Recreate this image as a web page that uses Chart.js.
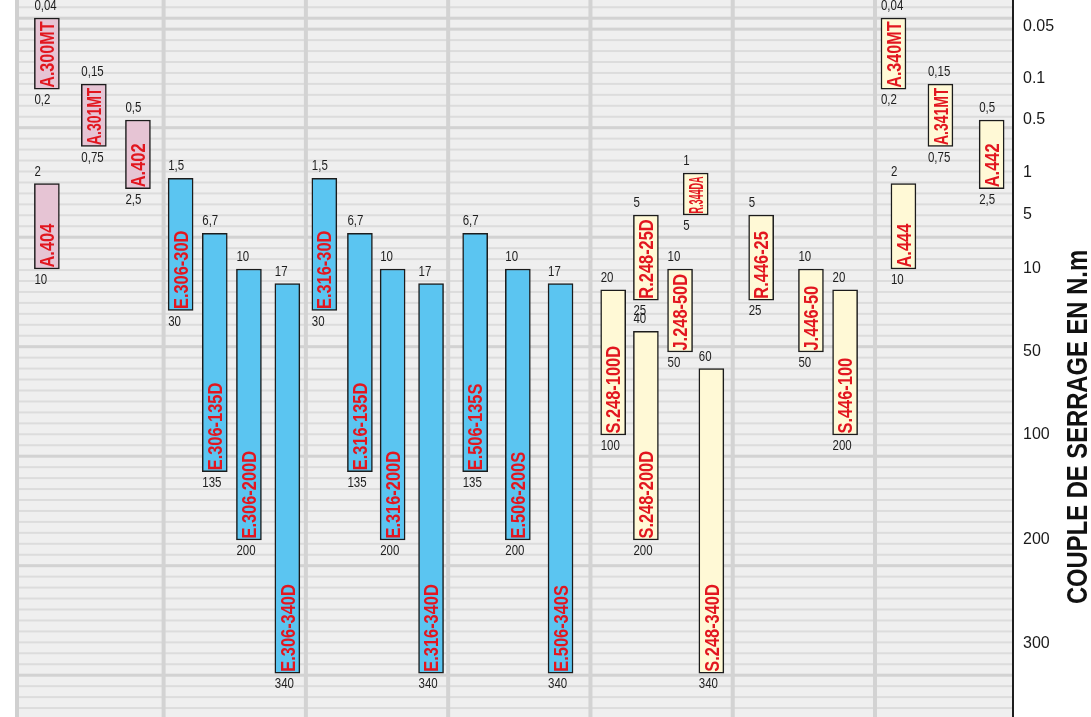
<!DOCTYPE html>
<html>
<head>
<meta charset="utf-8">
<script src="https://cdn.jsdelivr.net/npm/chart.js@4/dist/chart.umd.min.js"></script>
<style>
  html, body { margin: 0; padding: 0; background: #ffffff; }
  #wrap { width: 1091px; height: 717px; position: relative; }
</style>
</head>
<body>
<div id="wrap"><canvas id="c" width="1091" height="717"></canvas></div>
<script>
// ---------------- DATA ----------------
// Right axis (torque, N.m) – tick values and printed labels
const tickValues = [0.05, 0.1, 0.5, 1, 5, 10, 50, 100, 200, 300];
const tickLabels = ['0.05', '0.1', '0.5', '1', '5', '10', '50', '100', '200', '300'];
const axisMin = 0.02;
const axisMax = 400;
const axisTitle = 'COUPLE DE SERRAGE EN N.m';

// Series 1: pink models (torque range min / max, horizontal slot in grid columns)
const pinkNames = ['A.300MT', 'A.301MT', 'A.402', 'A.404'];
const pinkMin   = [0.04, 0.15, 0.5, 2];
const pinkMax   = [0.2, 0.75, 2.5, 10];
const pinkSlot  = [0.21, 0.54, 0.85, 0.21];

// Series 2: blue models
const blueNames = ['E.306-30D', 'E.306-135D', 'E.306-200D', 'E.306-340D',
                   'E.316-30D', 'E.316-135D', 'E.316-200D', 'E.316-340D',
                   'E.506-135S', 'E.506-200S', 'E.506-340S'];
const blueMin   = [1.5, 6.7, 10, 17, 1.5, 6.7, 10, 17, 6.7, 10, 17];
const blueMax   = [30, 135, 200, 340, 30, 135, 200, 340, 135, 200, 340];
const blueSlot  = [1.15, 1.39, 1.63, 1.90, 2.16, 2.41, 2.64, 2.91, 3.22, 3.52, 3.82];

// Series 3: cream models
const creamNames = ['S.248-100D', 'R.248-25D', 'S.248-200D', 'J.248-50D', 'R.344DA', 'S.248-340D',
                    'R.446-25', 'J.446-50', 'S.446-100', 'A.340MT', 'A.341MT', 'A.442', 'A.444'];
const creamMin   = [20, 5, 40, 10, 1, 60, 5, 10, 20, 0.04, 0.15, 0.5, 2];
const creamMax   = [100, 25, 200, 50, 5, 340, 25, 50, 100, 0.2, 0.75, 2.5, 10];
const creamSlot  = [4.19, 4.42, 4.42, 4.66, 4.77, 4.88, 5.23, 5.58, 5.82, 6.16, 6.49, 6.85, 6.23];

// The picture prints "200" under S.446-100 although the bar ends at the 100 level
const printedMax = { 'S.446-100': '200' };

// ---------------- STYLE ----------------
const SANS = "'Liberation Sans', Arial, sans-serif";
const NARROW_X = 0.82;            // horizontal compression to imitate a narrow face
const COLORS = { pink: '#e6c4d4', blue: '#5bc5f1', cream: '#fff9d6' };
const LABEL_RED = '#e2161f';

// Custom non-uniform torque scale: piecewise linear between the printed ticks
// (tick positions as fractions of the plot height)
const TICK_FRACTIONS = [27, 79, 120, 173, 215, 269, 352, 435, 540, 644].map(p => p / 717);

class TorqueScale extends Chart.LinearScale {
  determineDataLimits() { this.min = axisMin; this.max = axisMax; }
  buildTicks() { return tickValues.map(v => ({ value: v })); }
  _stops() {
    return { vals: [axisMin, ...tickValues, axisMax], at: [0, ...TICK_FRACTIONS, 1] };
  }
  getPixelForValue(v) {
    const { vals, at } = this._stops();
    let i = 1;
    while (i < vals.length - 1 && v > vals[i]) i++;
    const d = at[i - 1] + (v - vals[i - 1]) / (vals[i] - vals[i - 1]) * (at[i] - at[i - 1]);
    return this.top + d * (this.bottom - this.top);
  }
  getValueForPixel(p) {
    const { vals, at } = this._stops();
    const d = (p - this.top) / (this.bottom - this.top);
    let i = 1;
    while (i < at.length - 1 && d > at[i]) i++;
    return vals[i - 1] + (d - at[i - 1]) / (at[i] - at[i - 1]) * (vals[i] - vals[i - 1]);
  }
}
TorqueScale.id = 'torque';
TorqueScale.defaults = {};
Chart.register(TorqueScale);

function fmt(v) { return String(v).replace('.', ','); }
function makeData(names, mins, maxs, slots) {
  return names.map((n, i) => ({ x: slots[i], y: [mins[i], maxs[i]], name: n }));
}

const common = {
  borderColor: '#1c1c1c',
  borderWidth: 1.5,
  borderSkipped: false,
  barThickness: 25,
  stack: 'all',
  grouped: true
};

// Background: grey panel with horizontal stripes and column dividers
const backgroundPlugin = {
  id: 'panel',
  beforeDraw(chart) {
    const ctx = chart.ctx;
    const { left, right, top, bottom } = chart.chartArea;
    ctx.save();
    ctx.fillStyle = '#ffffff';
    ctx.fillRect(0, 0, chart.width, chart.height);
    ctx.fillStyle = '#efefef';
    ctx.fillRect(left - 2, top, right - left + 2, bottom - top);
    for (let i = 0; ; i++) {
      const y = top + 7.25 + i * 10.95;
      if (y > bottom + 3) break;
      const thick = (i % 10 === 1) || i === 2;
      ctx.fillStyle = thick ? '#d2d2d2' : '#dcdcdc';
      const h = thick ? 3 : 2;
      ctx.fillRect(left + 2, y - h / 2, right - left - 2, h);
    }
    const xs = chart.scales.x;
    ctx.fillStyle = '#d3d3d3';
    for (let k = 1; k <= 6; k++) {
      const x = xs.getPixelForValue(k) + 4.3;
      ctx.fillRect(x - 2, top, 4, bottom - top);
    }
    ctx.fillStyle = '#d0d0d0';
    ctx.fillRect(left - 2, top, 4, bottom - top);
    ctx.restore();
  }
};

// Labels: range values above/below each bar and the model name inside, rotated
const labelPlugin = {
  id: 'barLabels',
  afterDatasetsDraw(chart) {
    const ctx = chart.ctx;
    chart.data.datasets.forEach((ds, di) => {
      const meta = chart.getDatasetMeta(di);
      meta.data.forEach((el, j) => {
        const item = ds.data[j];
        const p = el.getProps(['x', 'y', 'base', 'width'], true);
        const topY = Math.min(p.y, p.base);
        const botY = Math.max(p.y, p.base);
        const leftX = p.x - p.width / 2;
        // range numbers
        const bottomText = printedMax[item.name] || fmt(item.y[1]);
        [[fmt(item.y[0]), topY - 8], [bottomText, botY + 15]].forEach(([t, y]) => {
          ctx.save();
          ctx.font = `14px ${SANS}`;
          ctx.fillStyle = '#1e1e1e';
          ctx.textAlign = 'left';
          ctx.textBaseline = 'alphabetic';
          ctx.translate(leftX, y);
          ctx.scale(NARROW_X, 1);
          ctx.fillText(t, 0, 0);
          ctx.restore();
        });
        // model name
        const len = botY - topY;
        const fontPx = 20;
        ctx.save();
        ctx.font = `bold ${fontPx}px ${SANS}`;
        const w = ctx.measureText(item.name).width * NARROW_X;
        const avail = len - 5;
        const sx = (w > avail ? avail / w : 1) * NARROW_X;
        const capH = fontPx * 0.716;
        ctx.translate(p.x + capH / 2, botY - 1.5);
        ctx.rotate(-Math.PI / 2);
        ctx.scale(sx, 1);
        ctx.fillStyle = LABEL_RED;
        ctx.textAlign = 'left';
        ctx.textBaseline = 'alphabetic';
        ctx.fillText(item.name, 0, 0);
        ctx.restore();
      });
    });
  }
};

// Axis title, reading bottom-to-top on the right
const titlePlugin = {
  id: 'axisTitle',
  afterDraw(chart) {
    const ctx = chart.ctx;
    ctx.save();
    ctx.font = `bold 29px ${SANS}`;
    ctx.fillStyle = '#111111';
    ctx.textAlign = 'center';
    ctx.textBaseline = 'alphabetic';
    ctx.translate(1087, 427);
    ctx.rotate(-Math.PI / 2);
    ctx.scale(NARROW_X, 1);
    ctx.fillText(axisTitle, 0, 0);
    ctx.restore();
  }
};

new Chart(document.getElementById('c'), {
  type: 'bar',
  data: {
    datasets: [
      Object.assign({ label: 'A', data: makeData(pinkNames, pinkMin, pinkMax, pinkSlot), backgroundColor: COLORS.pink }, common),
      Object.assign({ label: 'E', data: makeData(blueNames, blueMin, blueMax, blueSlot), backgroundColor: COLORS.blue }, common),
      Object.assign({ label: 'S/R/J/A', data: makeData(creamNames, creamMin, creamMax, creamSlot), backgroundColor: COLORS.cream }, common)
    ]
  },
  options: {
    responsive: false,
    devicePixelRatio: 1,
    animation: false,
    layout: { padding: { left: 17, right: 0, top: 0, bottom: 0 } },
    plugins: { legend: { display: false }, tooltip: { enabled: false } },
    scales: {
      x: { type: 'linear', min: 0, max: 7, offset: false, display: false },
      y: {
        type: 'torque',
        position: 'right',
        stacked: false,
        grid: { display: false, drawTicks: false },
        border: { display: true, color: '#1e1e1e', width: 2, dash: [5, 1.5] },
        ticks: {
          autoSkip: false,
          padding: 10,
          color: '#1a1a1a',
          font: { family: SANS, size: 16 },
          callback: (v) => tickLabels[tickValues.indexOf(v)]
        },
        afterFit: (s) => { s.width = 78; s.paddingTop = 0; s.paddingBottom = 0; }
      }
    }
  },
  plugins: [backgroundPlugin, labelPlugin, titlePlugin]
});
</script>
</body>
</html>
